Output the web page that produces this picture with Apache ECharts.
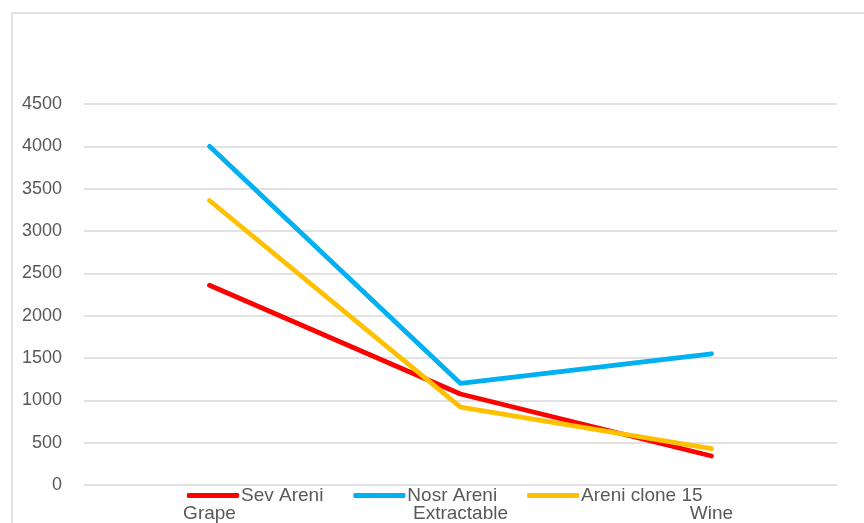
<!DOCTYPE html>
<html>
<head>
<meta charset="utf-8">
<script src="https://cdn.jsdelivr.net/npm/echarts@6/dist/echarts.min.js"></script>
<style>
html,body{margin:0;padding:0;background:#fff;}
#chart{width:864px;height:523px;}
</style>
</head>
<body>
<div id="chart"></div>
<script>
const categories = ['Grape', 'Extractable', 'Wine'];
const sevAreni = [2360, 1075, 343];
const nosrAreni = [4000, 1200, 1550];
const areniClone15 = [3360, 920, 430];
const yTicks = [0, 500, 1000, 1500, 2000, 2500, 3000, 3500, 4000, 4500];

const FONT = 'Liberation Sans';
const TXT = '#595959';
const chart = echarts.init(document.getElementById('chart'));
function line(name, data, color) {
  return {
    name, type: 'line', data, symbol: 'none', smooth: false,
    lineStyle: { color, width: 4.8, cap: 'round', join: 'round' },
    itemStyle: { color },
    emphasis: { disabled: true }
  };
}
chart.setOption({
  animation: false,
  graphic: [{
    type: 'rect', silent: true, z: -10,
    shape: { x: 12, y: 13, width: 900, height: 600 },
    style: { fill: 'none', stroke: '#d9d9d9', lineWidth: 1.5 }
  }],
  grid: { left: 84, right: 27, top: 104, bottom: 38 },
  legend: {
    left: 182, top: 481, itemGap: 30, itemWidth: 52, itemHeight: 5,
    icon: 'roundRect',
    textStyle: { fontFamily: FONT, fontSize: 19, color: TXT, padding: [0, 0, 0, -3] },
    data: ['Sev Areni', 'Nosr Areni', 'Areni clone 15']
  },
  xAxis: {
    type: 'category', data: categories, boundaryGap: true,
    axisLine: { show: false }, axisTick: { show: false },
    axisLabel: { fontFamily: FONT, fontSize: 19, color: TXT, margin: 19 }
  },
  yAxis: {
    type: 'value', min: yTicks[0], max: yTicks[yTicks.length - 1], interval: 500,
    axisLine: { show: false }, axisTick: { show: false },
    splitLine: { lineStyle: { color: '#d9d9d9', width: 1.5 } },
    axisLabel: { fontFamily: FONT, fontSize: 18, color: TXT, margin: 22, align: 'right',
      formatter: v => String(v) }
  },
  series: [
    line('Sev Areni', sevAreni, '#FF0000'),
    line('Nosr Areni', nosrAreni, '#00B0F0'),
    line('Areni clone 15', areniClone15, '#FFC000')
  ]
});
</script>
</body>
</html>
